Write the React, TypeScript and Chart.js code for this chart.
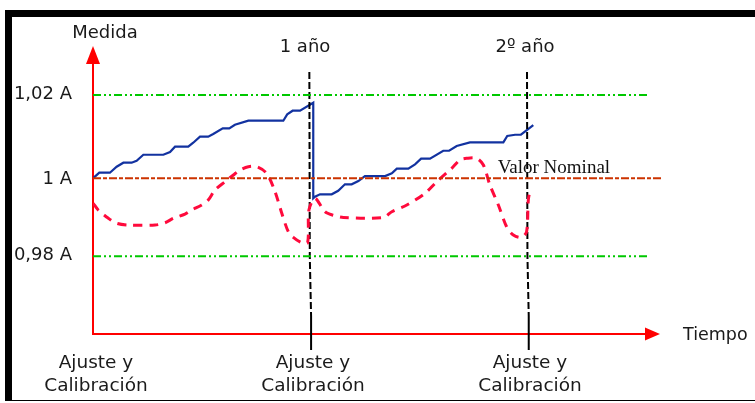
import React, { useEffect, useRef } from "react";
import { Chart, registerables } from "chart.js";

Chart.register(...registerables);

// ---- data (x in years, y in amperes) ----
const tickValues = [0.98, 1.0, 1.0214];
const tickLabels = ["0,98 A", "1 A", "1,02 A"];
const calibrationX = [0, 1, 2];
const calibrationLabel = ["Ajuste y", "Calibración"];
const yearLabels = ["1 año", "2º año"];

const blueX = [0, 0.029, 0.078, 0.109, 0.14, 0.178, 0.201, 0.232, 0.324, 0.355, 0.378, 0.439, 0.462, 0.493, 0.531, 0.554, 0.598, 0.628, 0.654, 0.716, 0.877, 0.895, 0.92, 0.954, 1.015,
  1.015, 1.023, 1.046, 1.1, 1.13, 1.161, 1.192, 1.223, 1.253, 1.346, 1.377, 1.4, 1.453, 1.484, 1.512, 1.553, 1.614, 1.641, 1.676, 1.737, 1.891, 1.909, 1.945, 1.972, 2.029];
const blueY = [1.0, 1.00144, 1.00144, 1.00298, 1.00401, 1.00401, 1.00452, 1.00606, 1.00606, 1.00676, 1.00812, 1.00812, 1.00915, 1.01069, 1.01069, 1.01138, 1.01285, 1.01285, 1.01377, 1.0148, 1.0148, 1.01644, 1.01737, 1.01737, 1.01942,
  0.99486, 0.99527, 0.99589, 0.99589, 0.99681, 0.99846, 0.99846, 0.99931, 1.00059, 1.00059, 1.00128, 1.00247, 1.00247, 1.0036, 1.00504, 1.00504, 1.00709, 1.00709, 1.0083, 1.00925, 1.00925, 1.01087, 1.0112, 1.0112, 1.01369];

const redX = [0.001, 0.024, 0.071, 0.109, 0.163, 0.286, 0.332, 0.37, 0.424, 0.455, 0.501, 0.531, 0.562, 0.608, 0.647, 0.677, 0.716, 0.754, 0.8, 0.839, 0.87, 0.9, 0.923, 0.962, 0.989, 0.995, 1.023,
  1.069, 1.108, 1.154, 1.338, 1.377, 1.446, 1.53, 1.584, 1.653, 1.691, 1.722, 1.768, 1.799, 1.829, 1.868, 1.906, 1.937, 1.975, 1.998, 2.006, 2.014];
const redY = [0.99358, 0.99186, 0.98972, 0.98844, 0.988, 0.988, 0.98859, 0.98972, 0.99083, 0.99186, 0.99314, 0.99442, 0.99699, 0.99913, 1.00085, 1.00213, 1.00298, 1.00298, 1.00128, 0.99656, 0.99101, 0.98628, 0.98484, 0.98345, 0.98345, 0.99186, 0.99486,
  0.99142, 0.99049, 0.98993, 0.98993, 0.99142, 0.99314, 0.99615, 0.99913, 1.00257, 1.0047, 1.00514, 1.00514, 1.00342, 0.99828, 0.99314, 0.98756, 0.98543, 0.98484, 0.98628, 0.99442, 0.99699];

const upperLimit = 1.0214;
const lowerLimit = 0.98;
const nominal = 1.0;
const limitEndX = 2.562;
const nominalEndX = 2.627;

const markerTopY = 1.0273;
const markerDashEndY = 0.9646;
const markerBottomY = 0.9559;
const year1MarkerX = [0.997, 0.999, 1.005];
const year2MarkerX = [2.0, 2.002, 2.008];

const X_MIN = 0;
const X_MAX = 2.6267;
const Y_MIN = 0.96;
const Y_MAX = 1.034;

const FONT = "'DejaVu Sans', sans-serif";
const TEXT = "#1a1a1a";
const AXIS_RED = "#ff0000";

const xy = (xs: number[], ys: number[]) => xs.map((x, i) => ({ x, y: ys[i] }));

const annotations = {
  id: "annotations",
  beforeDatasetsDraw(chart: any) {
    const { ctx, chartArea, scales } = chart;
    const x0 = scales.x.getPixelForValue(0);
    const yBase = chartArea.bottom;
    ctx.save();
    ctx.strokeStyle = AXIS_RED;
    ctx.fillStyle = AXIS_RED;
    ctx.lineWidth = 2;
    // y axis
    ctx.beginPath();
    ctx.moveTo(x0, yBase + 1);
    ctx.lineTo(x0, chartArea.top + 16);
    ctx.stroke();
    ctx.beginPath();
    ctx.moveTo(x0, chartArea.top);
    ctx.lineTo(x0 - 7, chartArea.top + 18);
    ctx.lineTo(x0 + 7, chartArea.top + 18);
    ctx.closePath();
    ctx.fill();
    // x axis
    const xTip = chartArea.right - 3;
    ctx.beginPath();
    ctx.moveTo(x0 - 1, yBase);
    ctx.lineTo(xTip - 14, yBase);
    ctx.stroke();
    ctx.beginPath();
    ctx.moveTo(xTip, yBase);
    ctx.lineTo(xTip - 15, yBase - 6.5);
    ctx.lineTo(xTip - 15, yBase + 6.5);
    ctx.closePath();
    ctx.fill();
    ctx.restore();
  },
  afterDraw(chart: any) {
    const { ctx, chartArea, scales } = chart;
    const x0 = scales.x.getPixelForValue(0);
    ctx.save();
    ctx.fillStyle = TEXT;
    ctx.font = `18px ${FONT}`;
    ctx.textBaseline = "middle";
    // y tick labels
    ctx.textAlign = "right";
    tickValues.forEach((v, i) => {
      const dy = v === nominal ? 2.5 : 0;
      ctx.fillText(tickLabels[i], x0 - 21, scales.y.getPixelForValue(v) + dy - 1);
    });
    // axis titles
    ctx.textAlign = "center";
    ctx.fillText("Medida", x0 + 12, 33);
    ctx.textAlign = "left";
    ctx.font = `17.5px ${FONT}`;
    ctx.fillText("Tiempo", chartArea.right + 20, chartArea.bottom + 1);
    // year labels
    ctx.font = `18px ${FONT}`;
    ctx.textAlign = "center";
    yearLabels.forEach((t, i) => {
      ctx.fillText(t, scales.x.getPixelForValue(i + 1) - 5 + i * 3, 47);
    });
    // calibration labels
    ctx.font = `18.5px ${FONT}`;
    calibrationX.forEach((v) => {
      const px = scales.x.getPixelForValue(v) + 3;
      ctx.fillText(calibrationLabel[0], px, chartArea.bottom + 29);
      ctx.fillText(calibrationLabel[1], px, chartArea.bottom + 52);
    });
    // Valor Nominal
    ctx.font = `19px 'Liberation Serif', serif`;
    ctx.textAlign = "left";
    ctx.textBaseline = "alphabetic";
    ctx.fillStyle = "#111";
    ctx.fillText("Valor Nominal", scales.x.getPixelForValue(1.865), scales.y.getPixelForValue(nominal) - 5);
    ctx.restore();
  },
};

export default function App() {
  const ref = useRef<HTMLCanvasElement | null>(null);
  useEffect(() => {
    if (!ref.current) return;
    const markerData = (xs: number[]) => [
      { x: xs[0], y: markerTopY },
      { x: xs[1], y: lowerLimit },
      { x: xs[2], y: markerDashEndY },
    ];
    const solidData = (xs: number[]) => [
      { x: xs[2], y: markerDashEndY },
      { x: xs[2], y: markerBottomY },
    ];
    const base = { pointRadius: 0, tension: 0, fill: false };
    const chart = new Chart(ref.current, {
      type: "line",
      data: {
        datasets: [
          { ...base, data: [{ x: 0, y: upperLimit }, { x: limitEndX, y: upperLimit }], borderColor: "#00c800", borderWidth: 2, borderDash: [8, 3, 2, 3, 2, 3] },
          { ...base, data: [{ x: 0, y: lowerLimit }, { x: limitEndX, y: lowerLimit }], borderColor: "#00c800", borderWidth: 2, borderDash: [8, 3, 2, 3, 2, 3] },
          { ...base, data: [{ x: 0, y: nominal }, { x: nominalEndX, y: nominal }], borderColor: "#cc3300", borderWidth: 2, borderDash: [8, 2, 4, 2] },
          { ...base, data: xy(redX, redY), borderColor: "#ff0a3c", borderWidth: 3, borderDash: [9, 7], tension: 0.3 },
          { ...base, data: markerData(year1MarkerX), borderColor: "#000", borderWidth: 2, borderDash: [7, 3], clip: false },
          { ...base, data: solidData(year1MarkerX), borderColor: "#000", borderWidth: 2, clip: false },
          { ...base, data: markerData(year2MarkerX), borderColor: "#000", borderWidth: 2, borderDash: [7, 3], clip: false },
          { ...base, data: solidData(year2MarkerX), borderColor: "#000", borderWidth: 2, clip: false },
          { ...base, data: xy(blueX, blueY), borderColor: "#1232a0", borderWidth: 2.2 },
        ],
      },
      options: {
        animation: false,
        responsive: false,
        devicePixelRatio: 1,
        layout: { padding: { left: 93, right: 92, top: 46, bottom: 69 } },
        plugins: { legend: { display: false }, tooltip: { enabled: false } },
        scales: {
          x: { type: "linear", min: X_MIN, max: X_MAX, display: false },
          y: { type: "linear", min: Y_MIN, max: Y_MAX, display: false },
        },
      },
      plugins: [annotations],
    });
    return () => chart.destroy();
  }, []);

  return (
    <div style={{ position: "absolute", left: 0, top: 0, width: 755, height: 403, background: "#fff" }}>
      <div
        style={{
          position: "absolute",
          left: 5,
          top: 10,
          width: 750,
          height: 391,
          borderTop: "7px solid #000",
          borderLeft: "7px solid #000",
          borderBottom: "1px solid #000",
          boxSizing: "border-box",
        }}
      />
      <canvas ref={ref} width={755} height={403} style={{ position: "absolute", left: 0, top: 0 }} />
    </div>
  );
}
